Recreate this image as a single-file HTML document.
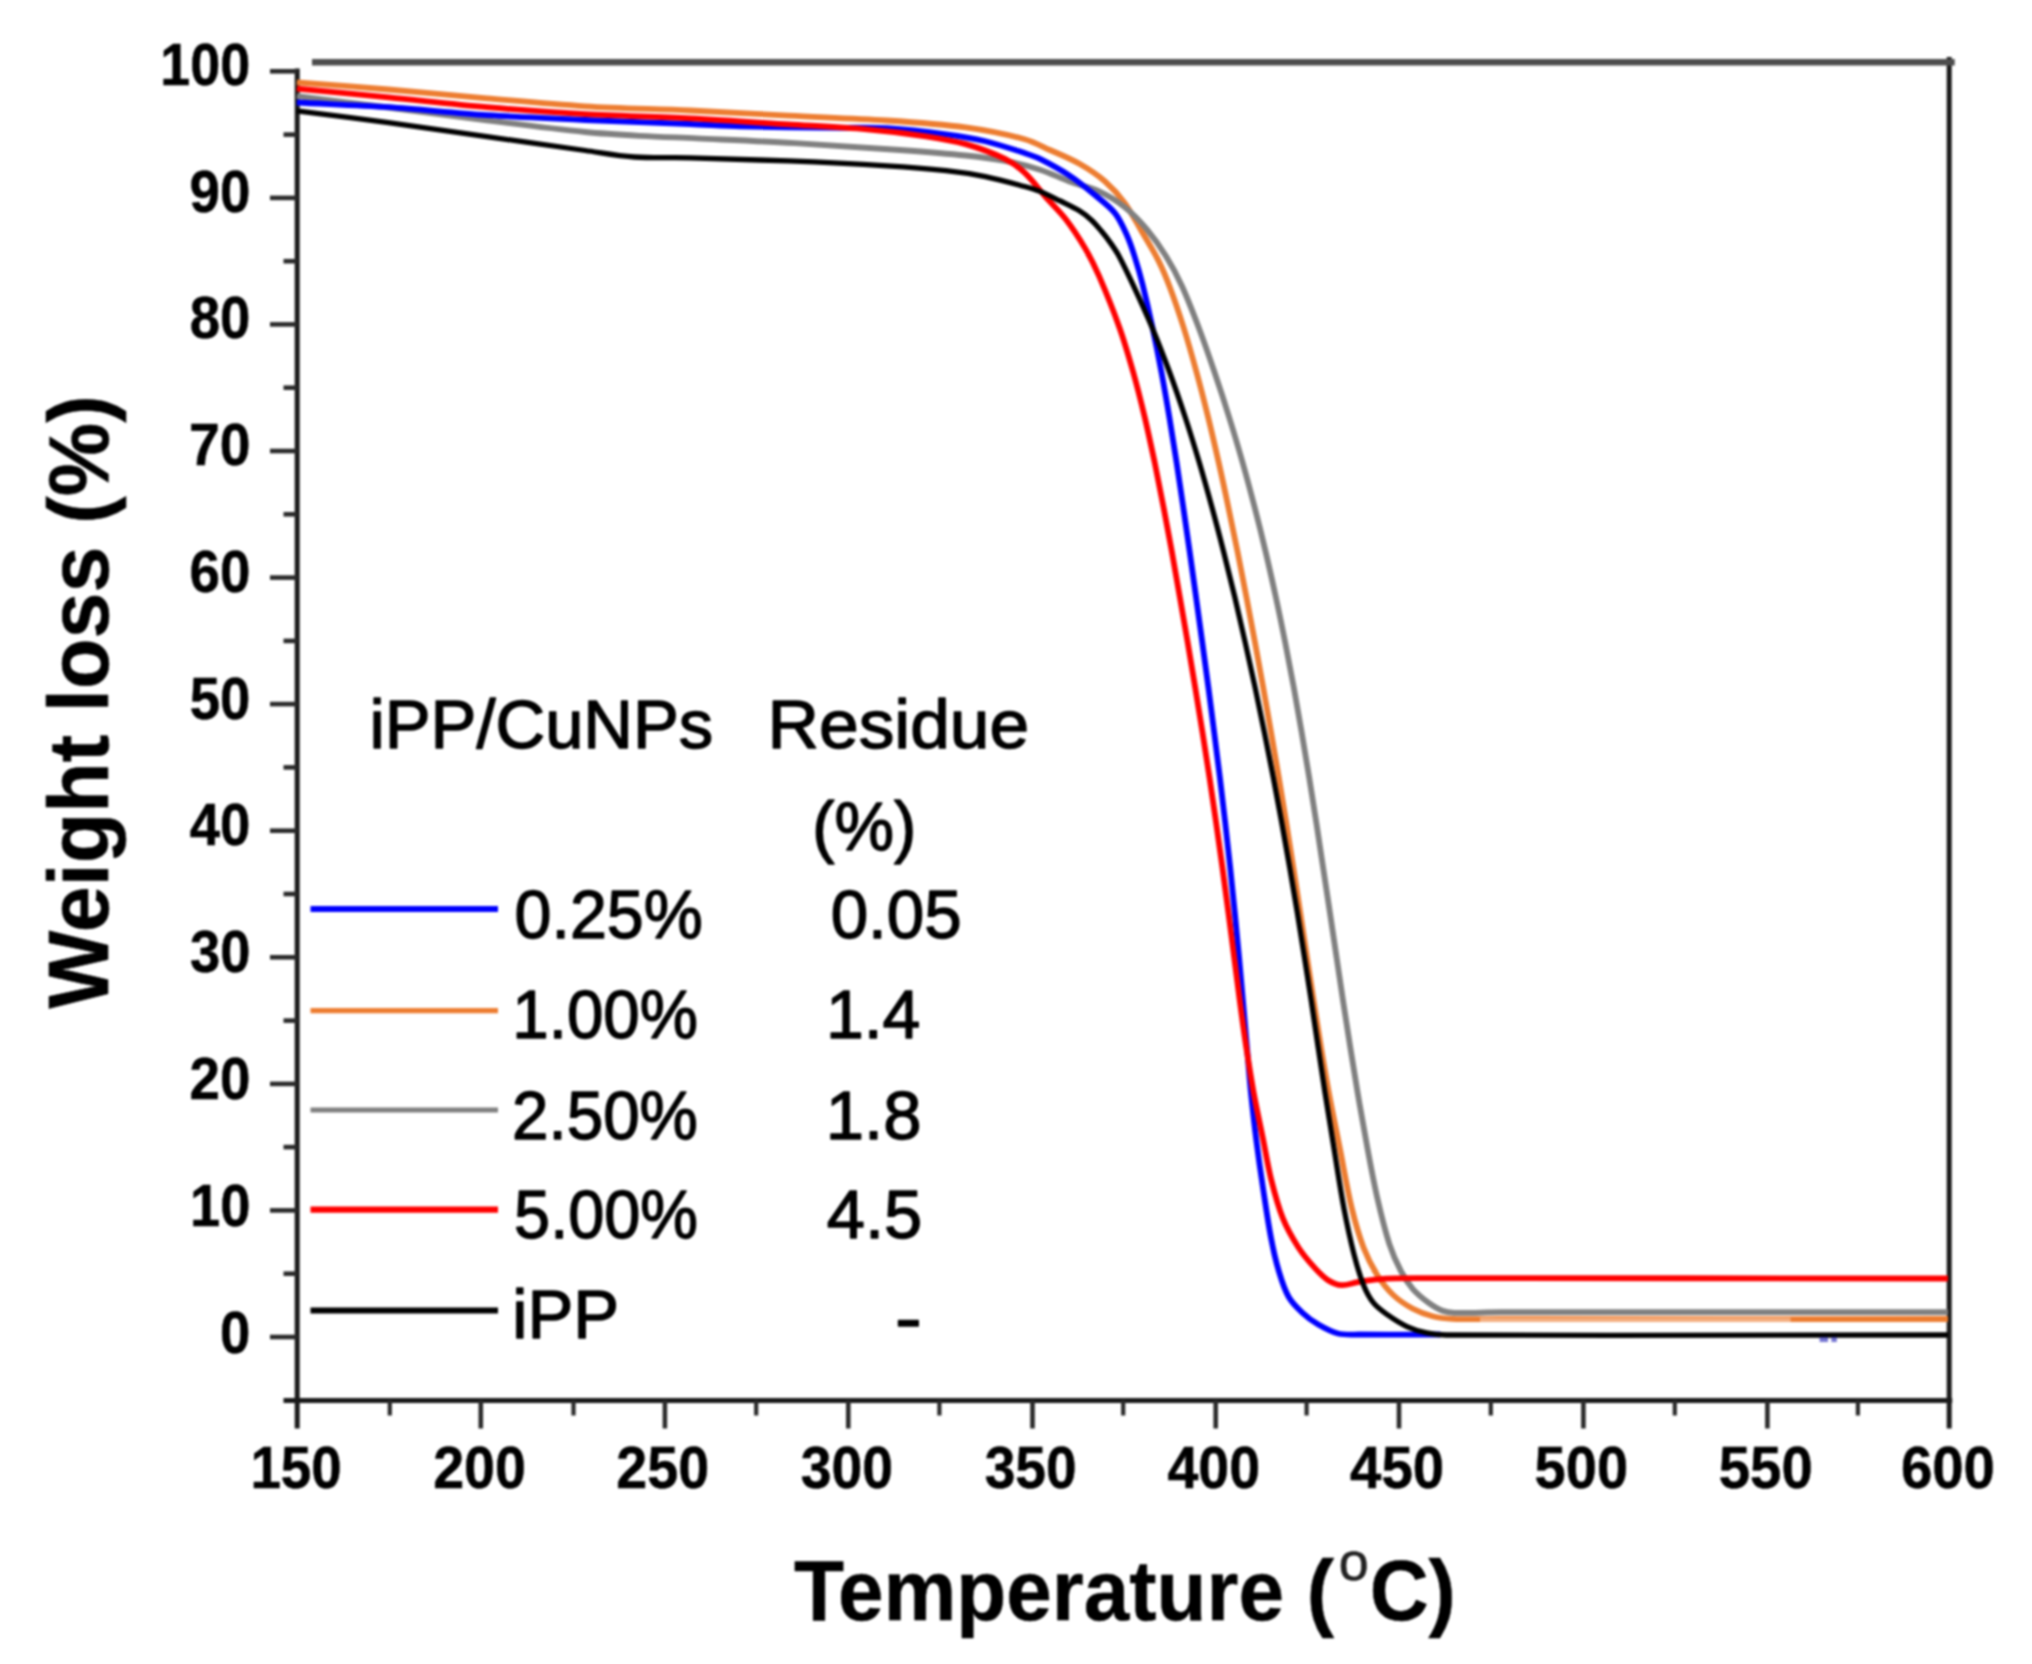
<!DOCTYPE html>
<html lang="en"><head><meta charset="utf-8"><title>TGA curves: iPP/CuNPs weight loss vs temperature</title>
<style>html,body{margin:0;padding:0;background:#fff;overflow:hidden}svg{display:block;filter:blur(0.8px)}text{font-family:"Liberation Sans",sans-serif;fill:#000;stroke:#000;stroke-width:1.4px;stroke-linejoin:round}.b{font-weight:bold;stroke-width:.5px}</style></head><body>
<svg width="2032" height="1664" viewBox="0 0 2032 1664" role="img" aria-label="Thermogravimetric weight loss curves of iPP and iPP/CuNPs composites">
<rect width="2032" height="1664" fill="#fff"/>
<g stroke="#1a1a1a" stroke-width="5" fill="none">
<line x1="297.2" y1="68.5" x2="297.2" y2="1428.5"/>
<line x1="283.5" y1="1400.5" x2="1952.2" y2="1400.5"/>
<line x1="1949.2" y1="57" x2="1949.2" y2="1428.5"/>
</g>
<line x1="312" y1="62.3" x2="1954.7" y2="62.3" stroke="#4d4d4d" stroke-width="6.5"/>
<g stroke="#2a2a2a" stroke-width="4.6">
<line x1="270" y1="1337.0" x2="297.2" y2="1337.0"/>
<line x1="270" y1="1210.4" x2="297.2" y2="1210.4"/>
<line x1="270" y1="1083.9" x2="297.2" y2="1083.9"/>
<line x1="270" y1="957.3" x2="297.2" y2="957.3"/>
<line x1="270" y1="830.7" x2="297.2" y2="830.7"/>
<line x1="270" y1="704.1" x2="297.2" y2="704.1"/>
<line x1="270" y1="577.6" x2="297.2" y2="577.6"/>
<line x1="270" y1="451.0" x2="297.2" y2="451.0"/>
<line x1="270" y1="324.4" x2="297.2" y2="324.4"/>
<line x1="270" y1="197.9" x2="297.2" y2="197.9"/>
<line x1="270" y1="71.3" x2="297.2" y2="71.3"/>
<line x1="283.5" y1="1273.7" x2="297.2" y2="1273.7"/>
<line x1="283.5" y1="1147.1" x2="297.2" y2="1147.1"/>
<line x1="283.5" y1="1020.6" x2="297.2" y2="1020.6"/>
<line x1="283.5" y1="894.0" x2="297.2" y2="894.0"/>
<line x1="283.5" y1="767.4" x2="297.2" y2="767.4"/>
<line x1="283.5" y1="640.9" x2="297.2" y2="640.9"/>
<line x1="283.5" y1="514.3" x2="297.2" y2="514.3"/>
<line x1="283.5" y1="387.7" x2="297.2" y2="387.7"/>
<line x1="283.5" y1="261.2" x2="297.2" y2="261.2"/>
<line x1="283.5" y1="134.6" x2="297.2" y2="134.6"/>
<line x1="480.8" y1="1400.5" x2="480.8" y2="1428.5"/>
<line x1="664.9" y1="1400.5" x2="664.9" y2="1428.5"/>
<line x1="848.3" y1="1400.5" x2="848.3" y2="1428.5"/>
<line x1="1032.5" y1="1400.5" x2="1032.5" y2="1428.5"/>
<line x1="1215.7" y1="1400.5" x2="1215.7" y2="1428.5"/>
<line x1="1399.0" y1="1400.5" x2="1399.0" y2="1428.5"/>
<line x1="1583.4" y1="1400.5" x2="1583.4" y2="1428.5"/>
<line x1="1767.4" y1="1400.5" x2="1767.4" y2="1428.5"/>
<line x1="389.8" y1="1400.5" x2="389.8" y2="1415.5" stroke-width="4.2"/>
<line x1="573.5" y1="1400.5" x2="573.5" y2="1415.5" stroke-width="4.2"/>
<line x1="756.2" y1="1400.5" x2="756.2" y2="1415.5" stroke-width="4.2"/>
<line x1="939.4" y1="1400.5" x2="939.4" y2="1415.5" stroke-width="4.2"/>
<line x1="1123.2" y1="1400.5" x2="1123.2" y2="1415.5" stroke-width="4.2"/>
<line x1="1306.6" y1="1400.5" x2="1306.6" y2="1415.5" stroke-width="4.2"/>
<line x1="1490.8" y1="1400.5" x2="1490.8" y2="1415.5" stroke-width="4.2"/>
<line x1="1674.8" y1="1400.5" x2="1674.8" y2="1415.5" stroke-width="4.2"/>
<line x1="1857.9" y1="1400.5" x2="1857.9" y2="1415.5" stroke-width="4.2"/>
</g>
<g fill="none" stroke-width="5.8" stroke-linejoin="round" stroke-linecap="butt">
<path stroke="#ed7d31" d="M296.8 82.3 C327.3 84.7 357.9 86.9 388.4 89.5 C421.2 92.3 454.1 95.6 486.9 98.4 C519.7 101.2 552.5 104.3 585.3 106.3 C620.2 108.4 655.1 108.9 690.0 110.5 C722.8 112.0 755.6 113.9 788.4 115.6 C821.2 117.3 854.1 118.3 886.9 120.5 C913.2 122.2 939.5 123.9 965.6 127.4 C985.4 130.1 1005.3 134.0 1024.6 139.2 C1033.4 141.6 1041.5 146.2 1049.9 150.0 C1059.8 154.4 1070.0 158.4 1079.4 163.8 C1088.4 168.9 1097.3 174.7 1105.1 181.5 C1112.4 187.9 1119.1 195.3 1124.8 203.2 C1131.5 212.4 1136.7 222.9 1142.5 232.8 C1147.9 241.9 1153.6 250.9 1158.3 260.4 C1162.8 269.3 1166.6 278.6 1170.1 288.0 C1175.0 301.0 1179.4 314.2 1183.6 327.5 C1188.3 342.4 1192.5 357.4 1196.6 372.5 C1200.7 387.4 1204.5 402.5 1208.2 417.5 C1211.9 432.5 1215.3 447.5 1218.7 462.5 C1222.1 477.5 1225.3 492.5 1228.4 507.5 C1231.6 522.5 1234.7 537.5 1237.7 552.5 C1240.7 567.5 1243.6 582.5 1246.5 597.5 C1249.4 612.5 1252.2 627.5 1255.0 642.5 C1257.8 657.5 1260.5 672.5 1263.2 687.5 C1265.9 702.5 1268.5 717.5 1271.1 732.5 C1273.7 747.5 1276.3 762.5 1278.8 777.5 C1281.3 792.5 1283.8 807.5 1286.2 822.5 C1288.6 837.5 1291.0 852.5 1293.3 867.5 C1295.7 882.5 1297.9 897.5 1300.2 912.5 C1302.5 927.5 1304.8 942.5 1307.0 957.5 C1309.3 972.5 1311.5 987.5 1313.9 1002.5 C1316.2 1017.5 1318.5 1032.5 1321.0 1047.5 C1323.5 1062.5 1326.0 1077.5 1328.8 1092.5 C1332.3 1111.4 1336.3 1130.2 1340.0 1149.1 C1343.9 1168.8 1347.1 1188.8 1351.8 1208.3 C1355.0 1221.6 1358.7 1234.9 1363.6 1247.7 C1367.3 1257.3 1372.0 1266.6 1377.4 1275.3 C1381.8 1282.4 1387.1 1289.3 1393.2 1295.0 C1399.0 1300.4 1405.9 1305.0 1412.9 1308.8 C1419.0 1312.1 1425.8 1314.5 1432.6 1316.2 C1439.0 1317.8 1445.7 1318.5 1452.3 1318.8 C1468.2 1319.5 1484.1 1319.0 1500.0 1319.0 C1649.3 1319.1 1798.7 1319.0 1948.0 1319.0"/>
<path stroke="#808080" d="M296.8 96.2 C327.3 100.0 357.9 103.6 388.4 107.5 C421.2 111.7 454.0 116.3 486.9 120.4 C519.7 124.5 552.4 128.7 585.3 132.0 C603.5 133.8 621.8 134.8 640.0 135.8 C659.0 136.9 678.0 137.5 697.0 138.4 C729.7 139.9 762.4 141.2 795.0 143.1 C830.0 145.1 865.0 147.5 900.0 150.0 C921.9 151.6 943.8 153.2 965.6 155.5 C978.8 156.9 992.0 158.4 1005.0 160.9 C1016.8 163.2 1028.6 166.1 1040.0 169.7 C1050.1 172.9 1059.6 177.8 1069.6 181.5 C1079.3 185.1 1089.8 187.1 1099.1 191.4 C1108.2 195.6 1117.0 201.0 1124.8 207.2 C1132.8 213.5 1139.9 221.1 1146.5 228.9 C1153.7 237.5 1160.3 246.9 1166.2 256.5 C1172.1 265.9 1177.3 275.9 1181.9 286.0 C1188.1 299.5 1193.4 313.5 1198.7 327.5 C1204.3 342.4 1209.5 357.4 1214.6 372.5 C1219.7 387.4 1224.6 402.4 1229.2 417.5 C1233.9 432.4 1238.3 447.4 1242.6 462.5 C1246.8 477.4 1250.8 492.5 1254.7 507.5 C1258.6 522.5 1262.3 537.5 1265.8 552.5 C1269.3 567.5 1272.7 582.5 1275.9 597.5 C1279.2 612.5 1282.2 627.5 1285.2 642.5 C1288.2 657.5 1291.0 672.5 1293.8 687.5 C1296.5 702.5 1299.2 717.5 1301.7 732.5 C1304.3 747.5 1306.8 762.5 1309.2 777.5 C1311.6 792.5 1314.0 807.5 1316.3 822.5 C1318.6 837.5 1320.9 852.5 1323.1 867.5 C1325.4 882.5 1327.6 897.5 1329.9 912.5 C1332.1 927.5 1334.3 942.5 1336.6 957.5 C1338.8 972.5 1341.0 987.5 1343.3 1002.5 C1345.6 1017.5 1347.9 1032.5 1350.3 1047.5 C1352.7 1062.5 1355.1 1077.5 1357.6 1092.5 C1360.8 1111.4 1364.1 1130.3 1367.6 1149.1 C1370.7 1165.6 1373.7 1182.1 1377.4 1198.4 C1380.9 1213.6 1384.5 1229.0 1389.3 1243.8 C1392.4 1253.3 1396.5 1262.6 1401.1 1271.4 C1404.4 1277.7 1408.3 1283.8 1412.9 1289.1 C1417.5 1294.3 1423.1 1298.8 1428.7 1302.9 C1433.0 1306.0 1437.6 1308.9 1442.5 1310.8 C1446.2 1312.2 1450.3 1312.7 1454.3 1312.8 C1469.5 1313.2 1484.8 1312.2 1500.0 1312.2 C1649.3 1312.0 1798.7 1312.2 1948.0 1312.2"/>
<path stroke="#0000ff" d="M296.8 102.5 C327.3 104.1 357.9 105.2 388.4 107.2 C421.3 109.4 454.0 113.0 486.9 115.1 C519.7 117.2 552.5 118.6 585.3 120.0 C620.2 121.5 655.1 122.6 690.0 124.0 C706.7 124.7 723.3 125.7 740.0 126.3 C756.0 126.8 772.0 127.1 788.0 127.3 C805.3 127.6 822.7 127.6 840.0 127.8 C855.7 127.9 871.4 127.2 887.0 128.2 C906.7 129.4 926.4 131.7 946.0 134.3 C959.2 136.0 972.4 138.1 985.3 141.2 C998.6 144.4 1011.6 148.8 1024.6 153.0 C1029.8 154.7 1035.1 156.4 1040.0 158.9 C1050.1 164.0 1060.2 169.4 1069.6 175.6 C1078.6 181.5 1086.9 188.4 1095.2 195.3 C1102.0 200.9 1109.5 206.3 1114.9 213.1 C1120.0 219.4 1123.3 227.3 1126.7 234.8 C1129.9 241.8 1132.3 249.2 1134.6 256.5 C1137.5 265.6 1140.2 274.8 1142.5 284.1 C1146.1 298.5 1149.4 313.0 1152.5 327.5 C1155.7 342.5 1158.7 357.5 1161.5 372.5 C1164.3 387.5 1166.9 402.5 1169.4 417.5 C1171.9 432.5 1174.3 447.5 1176.6 462.5 C1178.9 477.5 1181.1 492.5 1183.3 507.5 C1185.5 522.5 1187.7 537.5 1189.8 552.5 C1192.0 567.5 1194.1 582.5 1196.1 597.5 C1198.2 612.5 1200.3 627.5 1202.3 642.5 C1204.4 657.5 1206.4 672.5 1208.4 687.5 C1210.3 702.5 1212.3 717.5 1214.2 732.5 C1216.1 747.5 1218.0 762.5 1219.9 777.5 C1221.7 792.5 1223.5 807.5 1225.2 822.5 C1226.9 837.5 1228.6 852.5 1230.2 867.5 C1231.8 882.5 1233.3 897.5 1234.8 912.5 C1236.3 927.5 1237.7 942.5 1239.1 957.5 C1240.5 972.5 1241.8 987.5 1243.1 1002.5 C1244.4 1017.5 1245.7 1032.5 1247.0 1047.5 C1248.3 1062.5 1249.4 1077.5 1250.9 1092.5 C1252.5 1108.1 1254.2 1123.7 1256.2 1139.3 C1258.3 1155.8 1260.6 1172.2 1263.1 1188.6 C1265.6 1205.1 1267.9 1221.6 1271.0 1237.9 C1273.1 1249.2 1275.6 1260.4 1278.9 1271.4 C1281.5 1280.1 1284.2 1289.2 1288.7 1297.0 C1292.1 1303.0 1297.4 1308.1 1302.5 1312.8 C1307.3 1317.3 1312.7 1321.3 1318.3 1324.6 C1324.5 1328.2 1331.1 1331.9 1338.0 1333.5 C1345.0 1335.2 1352.7 1334.4 1360.0 1334.5 C1386.8 1334.8 1413.7 1334.5 1440.5 1334.5"/>
<path stroke="#ff0000" d="M296.8 88.6 C327.3 91.5 357.9 94.4 388.4 97.4 C421.2 100.6 454.0 104.4 486.9 107.2 C519.7 110.0 552.5 112.3 585.3 114.1 C620.2 116.0 655.1 116.5 690.0 118.3 C722.8 120.0 755.6 122.3 788.4 124.4 C814.6 126.0 840.9 127.1 867.0 129.4 C886.7 131.1 906.4 133.4 926.0 136.3 C939.3 138.3 952.7 140.4 965.6 144.1 C979.0 147.9 992.5 152.8 1005.0 158.9 C1012.1 162.4 1018.8 167.3 1024.6 172.7 C1032.5 180.1 1038.7 189.2 1045.9 197.3 C1052.4 204.6 1059.7 211.3 1065.6 219.0 C1072.8 228.4 1079.3 238.4 1085.3 248.6 C1090.5 257.5 1095.0 266.8 1099.1 276.2 C1106.4 293.1 1113.3 310.2 1119.4 327.5 C1124.7 342.3 1129.0 357.4 1133.3 372.5 C1137.5 387.4 1141.2 402.4 1144.8 417.5 C1148.3 432.4 1151.5 447.5 1154.7 462.5 C1157.8 477.5 1160.7 492.5 1163.6 507.5 C1166.5 522.5 1169.2 537.5 1172.0 552.5 C1174.7 567.5 1177.3 582.5 1179.9 597.5 C1182.5 612.5 1185.1 627.5 1187.7 642.5 C1190.2 657.5 1192.7 672.5 1195.2 687.5 C1197.7 702.5 1200.1 717.5 1202.5 732.5 C1204.9 747.5 1207.2 762.5 1209.5 777.5 C1211.8 792.5 1214.0 807.5 1216.1 822.5 C1218.3 837.5 1220.4 852.5 1222.4 867.5 C1224.5 882.5 1226.5 897.5 1228.4 912.5 C1230.4 927.5 1232.2 942.5 1234.2 957.5 C1236.1 972.5 1238.0 987.5 1240.0 1002.5 C1242.0 1017.5 1244.0 1032.5 1246.3 1047.5 C1248.6 1062.5 1250.9 1077.6 1253.6 1092.5 C1256.5 1108.2 1260.0 1123.7 1263.1 1139.3 C1265.7 1152.4 1267.8 1165.7 1271.0 1178.7 C1274.3 1192.0 1277.7 1205.4 1282.8 1218.1 C1286.9 1228.4 1292.6 1238.3 1298.6 1247.7 C1303.1 1254.7 1308.7 1261.2 1314.3 1267.4 C1318.5 1272.0 1322.9 1276.9 1328.1 1280.2 C1332.1 1282.8 1337.2 1284.9 1341.9 1285.2 C1347.1 1285.5 1352.4 1283.1 1357.7 1282.2 C1364.2 1281.1 1370.8 1279.7 1377.4 1279.3 C1390.5 1278.4 1403.7 1278.2 1416.9 1278.2 C1593.9 1278.0 1771.0 1278.4 1948.0 1278.5"/>
<path stroke="#000000" stroke-width="5.3" d="M296.8 110.8 C327.3 114.7 357.9 118.5 388.4 122.6 C421.3 127.1 454.1 131.9 486.9 136.6 C519.7 141.2 552.5 146.0 585.3 150.5 C601.7 152.8 618.0 155.9 634.5 157.0 C652.9 158.3 671.5 157.3 690.0 157.8 C722.8 158.6 755.6 159.6 788.4 160.9 C821.2 162.2 854.1 163.8 886.9 165.8 C906.6 167.0 926.4 168.5 946.0 170.7 C959.2 172.1 972.3 174.0 985.3 176.6 C998.5 179.3 1011.6 183.0 1024.6 186.5 C1029.8 187.9 1035.0 189.4 1040.0 191.4 C1046.7 194.1 1053.2 197.5 1059.7 200.7 C1066.3 204.0 1073.1 207.0 1079.4 210.8 C1083.7 213.4 1087.6 216.6 1091.3 220.0 C1094.9 223.3 1098.0 227.1 1101.1 230.8 C1104.6 234.9 1107.9 239.2 1111.0 243.6 C1113.8 247.6 1116.6 251.6 1118.9 255.9 C1123.8 265.1 1128.3 274.6 1132.7 284.1 C1139.4 298.5 1146.0 312.9 1152.1 327.5 C1158.3 342.4 1164.1 357.4 1169.7 372.5 C1175.2 387.4 1180.3 402.4 1185.3 417.5 C1190.2 432.4 1194.8 447.4 1199.3 462.5 C1203.7 477.4 1207.9 492.5 1212.0 507.5 C1216.1 522.5 1220.0 537.5 1223.8 552.5 C1227.6 567.5 1231.3 582.5 1234.9 597.5 C1238.4 612.5 1241.9 627.5 1245.2 642.5 C1248.6 657.5 1251.9 672.5 1255.1 687.5 C1258.3 702.5 1261.4 717.5 1264.4 732.5 C1267.4 747.5 1270.4 762.5 1273.3 777.5 C1276.2 792.5 1279.0 807.5 1281.7 822.5 C1284.4 837.5 1287.1 852.5 1289.7 867.5 C1292.3 882.5 1294.8 897.5 1297.3 912.5 C1299.7 927.5 1302.1 942.5 1304.5 957.5 C1306.9 972.5 1309.2 987.5 1311.5 1002.5 C1313.7 1017.5 1316.0 1032.5 1318.2 1047.5 C1320.5 1062.5 1322.7 1077.5 1325.0 1092.5 C1328.0 1111.4 1331.0 1130.2 1334.1 1149.1 C1337.3 1168.8 1340.2 1188.7 1343.9 1208.3 C1346.8 1223.5 1350.0 1238.6 1353.8 1253.6 C1356.5 1264.3 1359.5 1275.0 1363.6 1285.2 C1366.1 1291.4 1369.3 1297.7 1373.5 1302.9 C1377.2 1307.5 1382.4 1311.2 1387.3 1314.7 C1393.5 1319.1 1400.1 1323.4 1407.0 1326.6 C1413.2 1329.5 1420.0 1331.5 1426.7 1332.9 C1433.1 1334.3 1439.8 1335.0 1446.4 1335.0 C1613.6 1335.7 1780.8 1335.0 1948.0 1335.0"/>
</g>
<line x1="1480" y1="1320.5" x2="1790.6" y2="1320.5" stroke="#fff" stroke-opacity=".38" stroke-width="6"/>
<rect x="1819.6" y="1337" width="8.4" height="5" fill="#2a2ab8" fill-opacity=".65"/><rect x="1831.4" y="1337" width="5.4" height="5" fill="#2a2ab8" fill-opacity=".65"/>
<text class="b" font-size="60" x="160.3" y="84.7" textLength="89.9" lengthAdjust="spacingAndGlyphs">100</text>
<text class="b" font-size="60" x="189.5" y="211.5" textLength="60.9" lengthAdjust="spacingAndGlyphs">90</text>
<text class="b" font-size="60" x="189.8" y="338.3" textLength="60.6" lengthAdjust="spacingAndGlyphs">80</text>
<text class="b" font-size="60" x="188.9" y="465.0" textLength="61.5" lengthAdjust="spacingAndGlyphs">70</text>
<text class="b" font-size="60" x="189.5" y="591.8" textLength="60.9" lengthAdjust="spacingAndGlyphs">60</text>
<text class="b" font-size="60" x="189.8" y="718.6" textLength="60.6" lengthAdjust="spacingAndGlyphs">50</text>
<text class="b" font-size="60" x="189.7" y="845.4" textLength="60.7" lengthAdjust="spacingAndGlyphs">40</text>
<text class="b" font-size="60" x="190.0" y="972.2" textLength="60.4" lengthAdjust="spacingAndGlyphs">30</text>
<text class="b" font-size="60" x="189.5" y="1098.9" textLength="60.9" lengthAdjust="spacingAndGlyphs">20</text>
<text class="b" font-size="60" x="190.0" y="1225.7" textLength="60.4" lengthAdjust="spacingAndGlyphs">10</text>
<text class="b" font-size="60" x="220.0" y="1352.5" textLength="30.3" lengthAdjust="spacingAndGlyphs">0</text>
<text class="b" font-size="60" x="250.4" y="1487.8" textLength="91.4" lengthAdjust="spacingAndGlyphs">150</text>
<text class="b" font-size="60" x="433.2" y="1487.8" textLength="92.8" lengthAdjust="spacingAndGlyphs">200</text>
<text class="b" font-size="60" x="616.3" y="1487.8" textLength="92.8" lengthAdjust="spacingAndGlyphs">250</text>
<text class="b" font-size="60" x="800.8" y="1487.8" textLength="92.3" lengthAdjust="spacingAndGlyphs">300</text>
<text class="b" font-size="60" x="984.7" y="1487.8" textLength="91.9" lengthAdjust="spacingAndGlyphs">350</text>
<text class="b" font-size="60" x="1167.4" y="1487.8" textLength="92.7" lengthAdjust="spacingAndGlyphs">400</text>
<text class="b" font-size="60" x="1350.1" y="1487.8" textLength="94.0" lengthAdjust="spacingAndGlyphs">450</text>
<text class="b" font-size="60" x="1534.6" y="1487.8" textLength="93.5" lengthAdjust="spacingAndGlyphs">500</text>
<text class="b" font-size="60" x="1718.8" y="1487.8" textLength="93.9" lengthAdjust="spacingAndGlyphs">550</text>
<text class="b" font-size="60" x="1900.9" y="1487.8" textLength="94.0" lengthAdjust="spacingAndGlyphs">600</text>
<text font-size="69" x="369.5" y="747.5" textLength="343.7" lengthAdjust="spacingAndGlyphs">iPP/CuNPs</text>
<text font-size="69" x="767.6" y="747.5" textLength="261.5" lengthAdjust="spacingAndGlyphs">Residue</text>
<text font-size="69" x="812.2" y="849.5" textLength="104.0" lengthAdjust="spacingAndGlyphs">(%)</text>
<text font-size="69" x="514.5" y="937.8" textLength="188.3" lengthAdjust="spacingAndGlyphs">0.25%</text>
<text font-size="69" x="830.7" y="937.8" textLength="131.0" lengthAdjust="spacingAndGlyphs">0.05</text>
<text font-size="69" x="512.3" y="1038.4" textLength="185.6" lengthAdjust="spacingAndGlyphs">1.00%</text>
<text font-size="69" x="825.9" y="1038.4" textLength="94.4" lengthAdjust="spacingAndGlyphs">1.4</text>
<text font-size="69" x="512.0" y="1138.6" textLength="185.9" lengthAdjust="spacingAndGlyphs">2.50%</text>
<text font-size="69" x="825.8" y="1138.6" textLength="95.6" lengthAdjust="spacingAndGlyphs">1.8</text>
<text font-size="69" x="514.1" y="1238.3" textLength="183.8" lengthAdjust="spacingAndGlyphs">5.00%</text>
<text font-size="69" x="826.8" y="1238.3" textLength="95.5" lengthAdjust="spacingAndGlyphs">4.5</text>
<text font-size="69" x="512.2" y="1338.3" textLength="106.9" lengthAdjust="spacingAndGlyphs">iPP</text>
<text font-size="73" x="895.0" y="1341.5" textLength="26.8" lengthAdjust="spacingAndGlyphs">-</text>
<text class="b" font-size="86" transform="translate(108 1008.6) rotate(-90)" x="0.0" y="0" textLength="613.4" lengthAdjust="spacingAndGlyphs">Weight loss (%)</text>
<text class="b" font-size="86" y="1619.5"><tspan x="794.0" textLength="540.0" lengthAdjust="spacingAndGlyphs">Temperature (</tspan><tspan x="1338.8" y="1580" font-size="54" fill="#222" style="font-weight:normal" textLength="30.0" lengthAdjust="spacingAndGlyphs">o</tspan><tspan x="1369.7" y="1619.5" textLength="86.1" lengthAdjust="spacingAndGlyphs">C)</tspan></text>
<g stroke-width="6.2" fill="none">
<line x1="310.5" y1="909" x2="498" y2="909" stroke="#0000ff"/>
<line x1="310.5" y1="1010.7" x2="498" y2="1010.7" stroke="#ed7d31" stroke-width="5.2"/>
<line x1="310.5" y1="1110" x2="498" y2="1110" stroke="#808080" stroke-width="5.2"/>
<line x1="310.5" y1="1209.7" x2="498" y2="1209.7" stroke="#ff0000"/>
<line x1="310.5" y1="1310.5" x2="498" y2="1310.5" stroke="#000000"/>
</g>
</svg></body></html>
